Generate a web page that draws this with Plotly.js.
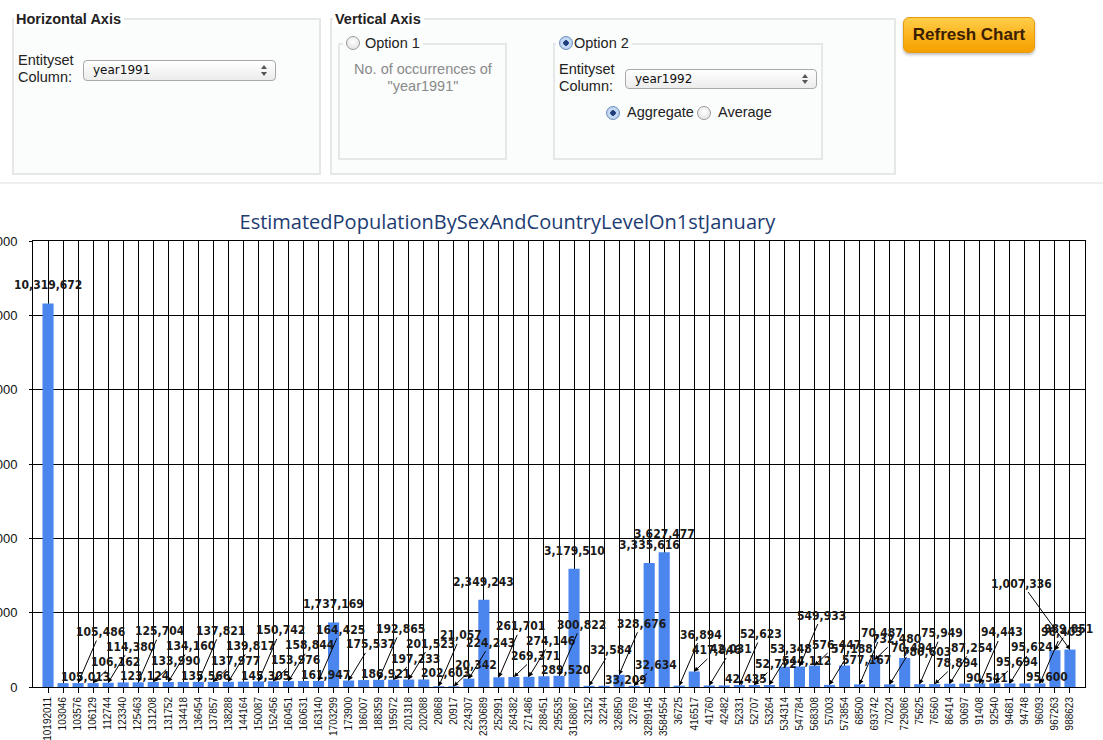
<!DOCTYPE html>
<html><head><meta charset="utf-8">
<script src="https://cdn.plot.ly/plotly-3.0.1.min.js"></script>
<style>
body{margin:0;width:1103px;height:740px;overflow:hidden;background:#fff;font-family:'Liberation Sans',Arial,sans-serif;position:relative;color:#222}
.box{position:absolute;border:2px solid #e6e8e8;background:#fbfcfc;box-sizing:border-box}
.leg{position:absolute;font-weight:bold;font-size:14.5px;color:#222;padding:0 3px 0 2px;line-height:16px;background:#fff}
.lbl{position:absolute;font-size:14.5px;line-height:17px;color:#222}
.sel{position:absolute;box-sizing:border-box;border:1px solid #a9a9a9;border-radius:4px;background:linear-gradient(#ffffff,#ececec);font-family:'DejaVu Sans',sans-serif;font-size:12px;padding-left:9px;color:#111}
.sel .ar{position:absolute;right:8px;top:4px;width:0;height:0;border-left:3px solid transparent;border-right:3px solid transparent;border-bottom:4px solid #555}
.sel .ar2{position:absolute;right:8px;bottom:4px;width:0;height:0;border-left:3px solid transparent;border-right:3px solid transparent;border-top:4px solid #555}
.radio{position:absolute;width:14px;height:14px;border-radius:50%;box-sizing:border-box;border:1px solid #9a9a9a;background:radial-gradient(circle at 50% 40%,#ffffff,#dcdcdc)}
.radio.on{background:radial-gradient(circle,#1f3f7a 0,#1f3f7a 2.5px,#cfe0f6 3px,#9fc0ea 100%);border-color:#6f8fb8}
.btn{position:absolute;left:903px;top:17px;width:132px;height:36px;box-sizing:border-box;border:1px solid #e39a10;border-radius:6px;background:linear-gradient(#ffce4a,#fbb21c 55%,#f5a000);box-shadow:0 2px 3px rgba(0,0,0,0.25);font-weight:bold;font-size:17px;color:#3a2000;text-align:center;line-height:33px}
#chart{position:absolute;left:0;top:185px;width:1103px;height:555px}
</style>
</head><body>
<div class="box" style="left:12px;top:18px;width:309px;height:157px"></div>
<div class="leg" style="left:14px;top:11px">Horizontal Axis</div>
<div class="lbl" style="left:18px;top:52px">Entityset<br>Column:</div>
<div class="sel" style="left:83px;top:60px;width:193px;height:21px;line-height:19px">year1991<span class="ar"></span><span class="ar2"></span></div>

<div class="box" style="left:330px;top:18px;width:566px;height:157px"></div>
<div class="leg" style="left:333px;top:11px">Vertical Axis</div>

<div class="box" style="left:338px;top:43px;width:169px;height:117px"></div>
<div class="leg" style="left:343px;top:35px;font-weight:normal;padding-left:22px;background:#fbfcfc">Option 1</div>
<div class="radio" style="left:346px;top:36px"></div>
<div class="lbl" style="left:340px;top:61px;width:166px;text-align:center;color:#8a8a8a">No. of occurrences of<br>"year1991"</div>

<div class="box" style="left:553px;top:43px;width:270px;height:117px"></div>
<div class="leg" style="left:556px;top:35px;font-weight:normal;padding-left:18px;background:#fbfcfc">Option 2</div>
<div class="radio on" style="left:559px;top:36px"></div>
<div class="lbl" style="left:559px;top:61px">Entityset<br>Column:</div>
<div class="sel" style="left:625px;top:69px;width:192px;height:20px;line-height:18px">year1992<span class="ar"></span><span class="ar2"></span></div>
<div class="radio on" style="left:606px;top:106px"></div>
<div class="lbl" style="left:627px;top:104px">Aggregate</div>
<div class="radio" style="left:697px;top:106px"></div>
<div class="lbl" style="left:718px;top:104px">Average</div>

<div class="btn">Refresh Chart</div>
<div style="position:absolute;left:0;top:182px;width:1103px;height:2px;background:#eeeeee"></div>

<div id="chart"></div>
<script>
// Horizontal axis categories (entityset column year1991)
var categories = ["10192011","103046","103576","106129","112744","123340","125463","131208","131752","134418",
 "136454","137857","138288","144164","150087","152456","160451","160631","163140","1703299",
 "173900","186007","188359","195972","201318","202088","20868","20917","224307","2330689",
 "252991","264382","271486","288451","295535","3168087","32152","32244","326850","32769",
 "3289145","3584554","36725","416517","41760","42482","52331","52707","53264","534314",
 "547784","568308","57003","573854","68500","693742","70224","729086","75625","76560",
 "86414","90697","91408","92540","94681","94748","96093","967263","988623"];
// Aggregate of year1992 per category
var aggregateYear1992 = [10319672,105013,105486,106162,114380,123124,125704,133990,134160,135566,
 137821,137977,139817,145305,150742,153976,158844,161947,164425,1737169,
 175537,186921,192865,197233,201523,202603,21057,20342,224243,2349243,
 261701,269371,274146,289520,300822,3179510,32584,33209,328676,32634,
 3335616,3627477,36894,417946,42031,42435,52623,52772,53348,544112,
 549933,576447,57188,577167,70487,732480,70494,780603,75949,78894,
 87254,90541,94443,95694,95624,95600,96403,989851,1007336];
var yTicks = [0,2000000,4000000,6000000,8000000,10000000,12000000];
var chartTitle = "EstimatedPopulationBySexAndCountryLevelOn1stJanuary";

function fmt(v){ return String(v).replace(/\B(?=(\d{3})+(?!\d))/g, ','); }
var labelFont = {family:"Liberation Sans Narrow, DejaVu Sans Condensed, Liberation Sans, Arial, sans-serif", size:12, color:'#1a1a1a'};
var levels = [2,0,3,1];
var n = categories.length;
var annotations = [];
for (var i = 0; i < n; i++) {
  var v = aggregateYear1992[i];
  if (v >= 1000000 && i < n - 1) {
    annotations.push({x:i, y:v, xref:'x', yref:'y', text:'<b>'+fmt(v)+'</b>', showarrow:false,
      yanchor:'bottom', yshift:9, font:labelFont});
  } else {
    var lv = levels[i % levels.length];
    var ax = 22;
    if (i === n - 1) { ax = -48; lv = 4; }
    else if (i === n - 2) { ax = 14; lv = 1; }
    annotations.push({x:i, y:v, xref:'x', yref:'y', text:'<b>'+fmt(v)+'</b>', showarrow:true, arrowhead:2,
      arrowsize:0.9, arrowwidth:1, arrowcolor:'#000', ax:ax, ay:-(6+15*lv), font:labelFont});
  }
}

var trace = {type:'bar', x:categories, y:aggregateYear1992, marker:{color:'#4a86ee'}, hoverinfo:'none'};
var layout = {
  width:1103, height:555,
  margin:{l:33, r:18, t:56, b:53, autoexpand:false},
  paper_bgcolor:'rgba(0,0,0,0)', plot_bgcolor:'#ffffff',
  showlegend:false, bargap:0.26,
  title:{text:chartTitle, font:{family:"Open Sans, sans-serif", size:20, color:'#1d3c72'}, xref:'container', x:0.46, xanchor:'center', yref:'container', y:0.933, yanchor:'middle'},
  xaxis:{type:'category', range:[-1,69], tickmode:'linear', tick0:0, dtick:1, showgrid:true, gridcolor:'#000', gridwidth:1,
         ticks:'outside', ticklen:5, tickcolor:'#000', tickangle:-90, tickfont:{family:"Liberation Sans, Arial, sans-serif", size:10, color:'#111'},
         showline:true, linecolor:'#000', linewidth:1, mirror:true, zeroline:false, automargin:false, fixedrange:true},
  yaxis:{range:[0,12000000], tickmode:'array', tickvals:yTicks, ticktext:yTicks.map(fmt), showgrid:true, gridcolor:'#000', gridwidth:1,
         ticks:'outside', ticklen:3, tickcolor:'#000', tickfont:{family:"Liberation Sans, Arial, sans-serif", size:13, color:'#111'},
         showline:true, linecolor:'#000', linewidth:1, mirror:true, zeroline:false, automargin:false, ticklabelstandoff:9, fixedrange:true},
  annotations:annotations
};
Plotly.newPlot('chart', [trace], layout, {staticPlot:true, displayModeBar:false});
</script>
</body></html>
